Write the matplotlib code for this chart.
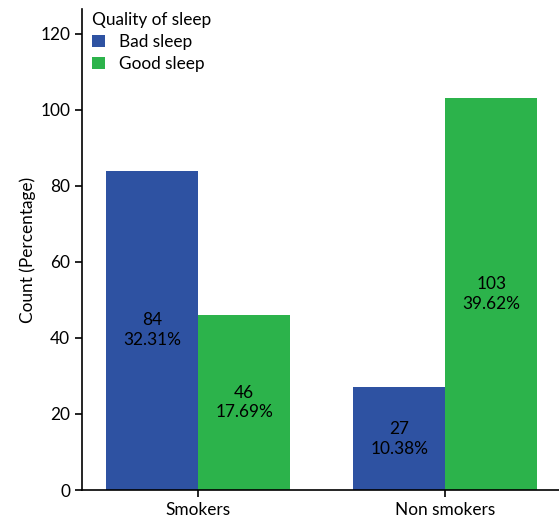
import numpy as np
import matplotlib.pyplot as plt

plt.rcParams['font.family'] = ['Lato', 'DejaVu Sans']

# data
groups = ['Smokers', 'Non smokers']
bad_sleep = [84, 27]
good_sleep = [46, 103]
bad_pct = ['32.31%', '10.38%']
good_pct = ['17.69%', '39.62%']

blue = '#2E52A2'
green = '#2CB34B'
fs = 12.4

fig = plt.figure(figsize=(5.59, 5.22), dpi=100)
ax = fig.add_axes([0.1467, 0.0613, 0.8533, 0.9215])

x = np.arange(len(groups))
w = 0.372
b1 = ax.bar(x - w / 2, bad_sleep, w, color=blue, label='Bad sleep')
b2 = ax.bar(x + w / 2, good_sleep, w, color=green, label='Good sleep')

# count + percentage in the middle of each bar
for bars, vals, pcts in [(b1, bad_sleep, bad_pct), (b2, good_sleep, good_pct)]:
    for rect, v, p in zip(bars, vals, pcts):
        ax.text(rect.get_x() + rect.get_width() / 2, v / 2, f'{v}\n{p}',
                ha='center', va='center', fontsize=fs, linespacing=1.3)

ax.set_xlim(-0.47, 1.46)
ax.set_ylim(0, 126.5)
ax.set_yticks([0, 20, 40, 60, 80, 100, 120])
ax.set_xticks(x)
ax.set_xticklabels(groups)
ax.set_ylabel('Count (Percentage)', fontsize=fs, labelpad=3)
ax.tick_params(labelsize=fs, length=5, width=1.2)

ax.spines['top'].set_visible(False)
ax.spines['right'].set_visible(False)
ax.spines['left'].set_linewidth(1.2)
ax.spines['bottom'].set_linewidth(1.2)

leg = ax.legend(title='Quality of sleep', loc='upper left', frameon=False,
                fontsize=fs, title_fontsize=fs, handlelength=0.75,
                handleheight=0.75, handletextpad=0.8, borderaxespad=0.2,
                labelspacing=0.35, bbox_to_anchor=(0.0, 1.015), alignment='left')

fig.savefig('out.png', dpi=100)
